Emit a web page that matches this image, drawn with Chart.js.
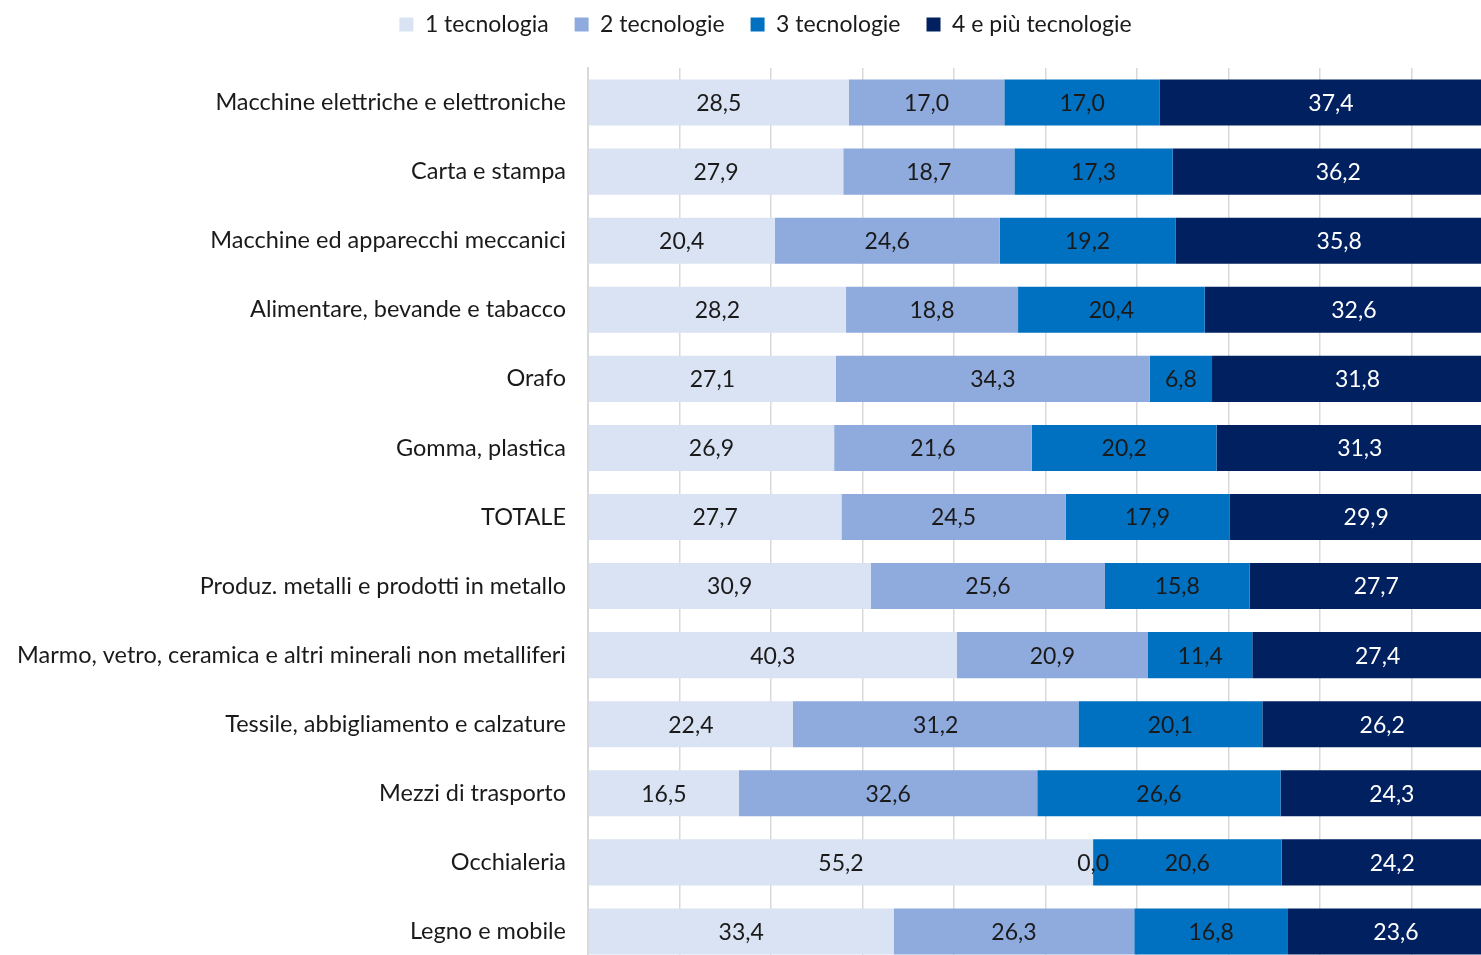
<!DOCTYPE html>
<html>
<head>
<meta charset="utf-8">
<script src="https://cdn.jsdelivr.net/npm/chart.js@4.4.1/dist/chart.umd.min.js"></script>
<style>
  html, body { margin: 0; padding: 0; overflow: hidden; background: #fff; }
  canvas { display: block; }
</style>
</head>
<body>
<canvas id="tecnologie" width="1503" height="966"></canvas>
<script>
const settori = [
  'Macchine elettriche e elettroniche',
  'Carta e stampa',
  'Macchine ed apparecchi meccanici',
  'Alimentare, bevande e tabacco',
  'Orafo',
  'Gomma, plastica',
  'TOTALE',
  'Produz. metalli e prodotti in metallo',
  'Marmo, vetro, ceramica e altri minerali non metalliferi',
  'Tessile, abbigliamento e calzature',
  'Mezzi di trasporto',
  'Occhialeria',
  'Legno e mobile'
];
const una_tecnologia = [28.5, 27.9, 20.4, 28.2, 27.1, 26.9, 27.7, 30.9, 40.3, 22.4, 16.5, 55.2, 33.4];
const due_tecnologie = [17.0, 18.7, 24.6, 18.8, 34.3, 21.6, 24.5, 25.6, 20.9, 31.2, 32.6, 0.0, 26.3];
const tre_tecnologie = [17.0, 17.3, 19.2, 20.4, 6.8, 20.2, 17.9, 15.8, 11.4, 20.1, 26.6, 20.6, 16.8];
const quattro_tecnologie = [37.4, 36.2, 35.8, 32.6, 31.8, 31.3, 29.9, 27.7, 27.4, 26.2, 24.3, 24.2, 23.6];

const FONT = 'Lato';

// etichette dei valori al centro di ogni segmento
const etichette = {
  id: 'etichette',
  afterDatasetsDraw(chart) {
    const ctx = chart.ctx;
    ctx.save();
    ctx.font = '23px ' + FONT;
    ctx.textAlign = 'center';
    ctx.textBaseline = 'middle';
    chart.data.datasets.forEach((ds, i) => {
      chart.getDatasetMeta(i).data.forEach((bar, j) => {
        const p = bar.getProps(['x', 'y', 'base'], true);
        ctx.fillStyle = i === 3 ? '#ffffff' : '#1a1a1a';
        ctx.fillText(ds.data[j].toFixed(1).replace('.', ','), (p.x + p.base) / 2, p.y + 1);
      });
    });
    ctx.restore();
  }
};

// altezza fissa della legenda e spostamento come nell'originale
const legendaFissa = {
  id: 'legendaFissa',
  beforeInit(chart) {
    const fitOrig = chart.legend.fit;
    chart.legend.fit = function () {
      fitOrig.call(this);
      this.height = 68;
    };
  },
  afterLayout(chart) {
    const l = chart.legend;
    l.left += 14; l.right += 14;
    l.top -= 13; l.bottom -= 13;
  }
};

const grafico = document.getElementById('tecnologie');

new Chart(grafico, {
  type: 'bar',
  data: {
    labels: settori,
    datasets: [
      { label: '1 tecnologia', data: una_tecnologia, backgroundColor: '#dae3f3' },
      { label: '2 tecnologie', data: due_tecnologie, backgroundColor: '#8faadc' },
      { label: '3 tecnologie', data: tre_tecnologie, backgroundColor: '#0070c0' },
      { label: '4 e più tecnologie', data: quattro_tecnologie, backgroundColor: '#002060' }
    ]
  },
  options: {
    indexAxis: 'y',
    responsive: false,
    animation: false,
    layout: { padding: 0 },
    datasets: {
      bar: { barPercentage: 0.667, categoryPercentage: 1, borderWidth: 0 }
    },
    scales: {
      x: {
        stacked: true,
        min: 0,
        max: 100,
        ticks: { display: false, stepSize: 10 },
        grid: { color: '#d9d9d9', lineWidth: 1.5, drawTicks: false },
        border: { display: false },
        afterFit(scale) { scale.height = 0; }
      },
      y: {
        stacked: true,
        grid: { display: false, drawTicks: false },
        border: { display: true, color: '#d9d9d9', width: 2 },
        ticks: { color: '#1a1a1a', padding: 22, font: { family: FONT, size: 23.5 } },
        afterFit(scale) {
          scale.width = 588;
          scale.paddingTop = 0;
          scale.paddingBottom = 0;
        }
      }
    },
    plugins: {
      legend: {
        position: 'top',
        labels: {
          color: '#1a1a1a',
          boxWidth: 14,
          boxHeight: 14,
          padding: 26,
          font: { family: FONT, size: 23 }
        }
      },
      tooltip: { enabled: false }
    }
  },
  plugins: [etichette, legendaFissa]
});
</script>
</body>
</html>
